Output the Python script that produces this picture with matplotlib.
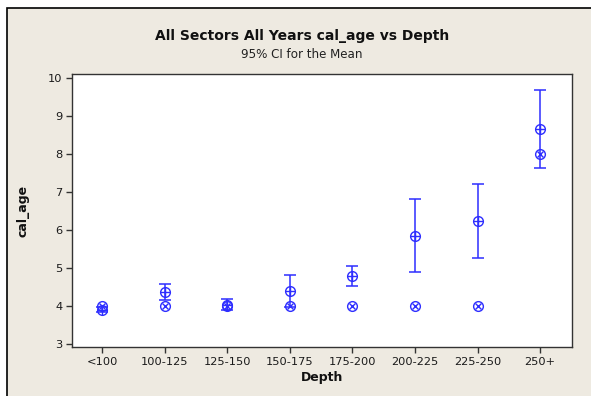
import matplotlib
matplotlib.use("Agg")
import matplotlib.pyplot as plt
from matplotlib.patches import Rectangle
import numpy as np

# Interval plot: mean with 95% CI, plus median marker per depth band
depth_bands = ["<100", "100-125", "125-150", "150-175", "175-200", "200-225", "225-250", "250+"]
mean_age = [3.90, 4.36, 4.02, 4.39, 4.79, 5.85, 6.23, 8.66]
ci_low = [3.85, 4.15, 3.88, 3.97, 4.52, 4.90, 5.25, 7.64]
ci_high = [3.97, 4.58, 4.17, 4.81, 5.06, 6.80, 7.21, 9.67]
median_age = [4.0, 4.0, 4.0, 4.0, 4.0, 4.0, 4.0, 8.0]
y_ticks = [3, 4, 5, 6, 7, 8, 9, 10]

W, H = 591, 396
fig = plt.figure(figsize=(W / 100, H / 100), dpi=100)
fig.patch.set_facecolor("white")

bg = "#EEEAE1"
blue = "#2E2EFF"

# Framed beige panel
fig.patches.append(Rectangle((7 / W, -0.02), 1.05, (H - 8) / H + 0.02,
                             transform=fig.transFigure, facecolor=bg,
                             edgecolor="black", linewidth=1.2, zorder=-10))

ax = fig.add_axes([72 / W, 1 - 347 / H, 500 / W, 273 / H])
ax.set_facecolor("white")

x = np.arange(1, len(depth_bands) + 1)
mean = np.array(mean_age)
lo = mean - np.array(ci_low)
hi = np.array(ci_high) - mean

ax.errorbar(x, mean, yerr=[lo, hi], fmt="none", ecolor=blue, elinewidth=1.1,
            capsize=4.2, capthick=1.1, zorder=2)
# mean symbol: circle with plus
ax.plot(x, mean, linestyle="none", marker="o", markersize=7.0,
        markerfacecolor="none", markeredgecolor=blue, markeredgewidth=1.0, zorder=3)
ax.plot(x, mean, linestyle="none", marker="+", markersize=7.0,
        markeredgecolor=blue, markeredgewidth=1.0, zorder=3)
# median symbol: circle with cross
ax.plot(x, median_age, linestyle="none", marker="o", markersize=7.0,
        markerfacecolor="none", markeredgecolor=blue, markeredgewidth=1.0, zorder=3)
ax.plot(x, median_age, linestyle="none", marker="x", markersize=4.8,
        markeredgecolor=blue, markeredgewidth=1.0, zorder=3)

ax.set_xlim(0.52, 8.51)
ax.set_ylim(2.92, 10.1)
ax.set_xticks(x)
ax.set_xticklabels(depth_bands)
ax.set_yticks(y_ticks)
ax.tick_params(axis="both", direction="out", length=4, width=1, colors="#333333",
               labelsize=8.2, labelcolor="#1a1a1a", pad=3)
for s in ax.spines.values():
    s.set_color("#333333")
    s.set_linewidth(1.0)

ax.set_xlabel("Depth", fontsize=9, fontweight="bold", color="#111111", labelpad=3)
ax.set_ylabel("cal_age", fontsize=9, fontweight="bold", color="#111111", labelpad=13)

fig.text(302 / W, 1 - 36 / H, "All Sectors All Years cal_age vs Depth",
         ha="center", va="center", fontsize=10, fontweight="bold", color="#111111")
fig.text(302 / W, 1 - 54 / H, "95% CI for the Mean",
         ha="center", va="center", fontsize=8.6, color="#222222")

fig.savefig("out.png", dpi=100, facecolor=fig.get_facecolor())
